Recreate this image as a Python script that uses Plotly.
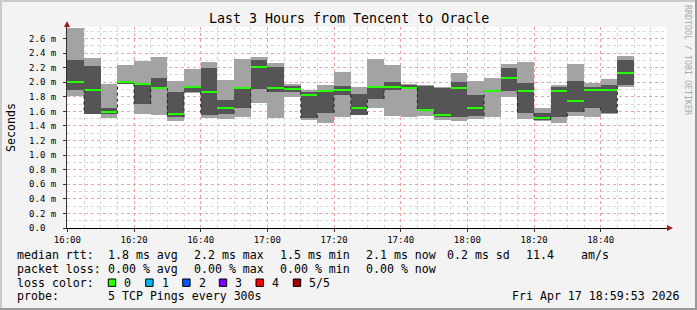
import datetime as dt
import plotly.graph_objects as go

# ---------------- data (ms) ----------------
start = dt.datetime(2026, 4, 17, 16, 0, 0)
range_start = dt.datetime(2026, 4, 17, 15, 59, 53)
range_end = dt.datetime(2026, 4, 17, 18, 59, 53)
step_min = 5
p_min = [1.815, 1.565, 1.51, 1.97, 1.565, 1.555, 1.475, 1.85, 1.51, 1.50,
         1.53, 1.71, 1.51, 1.80, 1.485, 1.445, 1.53, 1.55, 1.64, 1.54,
         1.53, 1.54, 1.485, 1.475, 1.495, 1.53, 1.80, 1.50, 1.475, 1.445,
         1.54, 1.53, 1.565, 1.935]
p_lo = [1.90, 1.57, 1.57, 1.98, 1.70, 1.92, 1.52, 1.87, 1.555, 1.57,
        1.64, 1.91, 1.87, 1.87, 1.51, 1.58, 1.83, 1.555, 1.775, 1.90,
        1.92, 1.60, 1.53, 1.53, 1.54, 1.875, 1.88, 1.58, 1.485, 1.53,
        1.595, 1.65, 1.58, 1.965]
median = [2.00, 1.90, 1.59, 2.00, 1.97, 1.925, 1.57, 1.93, 1.86, 1.64,
          1.915, 2.21, 1.925, 1.91, 1.83, 1.885, 1.90, 1.64, 1.935, 1.935,
          1.925, 1.625, 1.555, 1.925, 1.64, 1.88, 2.06, 1.88, 1.51, 1.88,
          1.745, 1.90, 1.90, 2.13]
p_hi = [2.31, 2.22, 1.64, 2.01, 1.99, 2.06, 1.87, 1.95, 2.20, 1.76,
        1.925, 2.31, 2.21, 1.95, 1.87, 1.90, 1.95, 1.84, 1.95, 2.01,
        1.96, 1.95, 1.92, 2.01, 1.83, 1.90, 2.20, 1.99, 1.58, 1.935,
        2.02, 1.935, 1.965, 2.31]
p_max = [2.75, 2.33, 1.98, 2.24, 2.29, 2.35, 2.02, 2.18, 2.28, 2.03,
         2.32, 2.35, 2.27, 1.98, 1.90, 1.965, 2.14, 1.94, 2.32, 2.24,
         1.98, 1.965, 1.935, 2.13, 2.02, 2.06, 2.255, 2.28, 1.65, 1.965,
         2.255, 1.99, 2.05, 2.36]

y_ticks = [0.0, 0.2, 0.4, 0.6, 0.8, 1.0, 1.2, 1.4, 1.6, 1.8, 2.0, 2.2, 2.4, 2.6]
y_ticktext = ["0.0\u00a0\u00a0"] + [f"{v:.1f} m" for v in y_ticks[1:]]

title_text = "Last 3 Hours from Tencent to Oracle"
row_rtt = ["median rtt:", "1.8 ms avg", "2.2 ms max", "1.5 ms min",
           "2.1 ms now", "0.2 ms sd", "11.4", "am/s"]
row_loss = ["packet loss:", "0.00 % avg", "0.00 % max", "0.00 % min", "0.00 % now"]
loss_labels = ["0", "1", "2", "3", "4", "5/5"]
loss_colors = ["#26ff00", "#00b8ff", "#0059ff", "#7e00ff", "#ff0000", "#a00000"]
probe_text = ["probe:", "5 TCP Pings every 300s"]
stamp_text = "Fri Apr 17 18:59:53 2026"

# ---------------- layout helpers ----------------
W, H = 697, 310
L, R, T, B = 67, 30, 27, 82
PW, PH = W - L - R, H - T - B
def px(x):
    return (x - L) / PW
def py(y):
    return (H - B - y) / PH

n = len(median)
centers = [start + dt.timedelta(minutes=step_min * i + step_min / 2) for i in range(n)]
bw = step_min * 60 * 1000
ymax = 2.758
line_h = 2 * ymax / PH

fig = go.Figure()
fig.add_bar(x=centers, base=p_min, y=[b - a for a, b in zip(p_min, p_max)],
            width=bw, marker=dict(color="#a3a3a3", line=dict(width=0)), hoverinfo="skip")
fig.add_bar(x=centers, base=p_lo, y=[b - a for a, b in zip(p_lo, p_hi)],
            width=bw, marker=dict(color="#555555", line=dict(width=0)), hoverinfo="skip")
fig.add_bar(x=centers, base=[m - line_h / 2 for m in median], y=[line_h] * n,
            width=bw, marker=dict(color=loss_colors[0], line=dict(width=0)), hoverinfo="skip")

# dotted vertical connectors at bar boundaries (lower edge of dark band)
cx, cy = [], []
for i in range(1, n):
    t = start + dt.timedelta(minutes=step_min * i)
    cx += [t, t, None]
    cy += [p_lo[i - 1], p_lo[i], None]
fig.add_scatter(x=cx, y=cy, mode="lines", line=dict(color="#222222", width=1, dash="dot"),
                hoverinfo="skip", connectgaps=False)

mono = "DejaVu Sans Mono"
fig.update_layout(
    width=W, height=H, margin=dict(l=L, r=R, t=T, b=B),
    paper_bgcolor="#f3f3f3", plot_bgcolor="#ffffff",
    barmode="overlay", bargap=0, showlegend=False,
    font=dict(family=mono, size=9, color="#000000"),
)
fig.update_xaxes(
    type="date", range=[range_start, range_end],
    tick0=start, dtick=20 * 60 * 1000, tickformat="%H:%M",
    showgrid=True, gridcolor="#f2a0a0", griddash="dot", gridwidth=1,
    minor=dict(dtick=5 * 60 * 1000, showgrid=True, gridcolor="#d6d6d6", griddash="dot", gridwidth=1),
    showline=True, linecolor="#000000", linewidth=1,
    ticks="outside", ticklen=3, tickcolor="#333333",
    tickfont=dict(family=mono, size=9), zeroline=False, fixedrange=True,
)
fig.update_yaxes(
    range=[0, ymax], tickvals=y_ticks, ticktext=y_ticktext,
    showgrid=True, gridcolor="#f2a0a0", griddash="dot", gridwidth=1,
    minor=dict(dtick=0.1, showgrid=True, gridcolor="#d6d6d6", griddash="dot", gridwidth=1),
    showline=True, linecolor="#3b2b2b", linewidth=1,
    ticks="outside", ticklen=3, tickcolor="#333333",
    ticklabelstandoff=5,
    tickfont=dict(family=mono, size=9), zeroline=False, fixedrange=True,
)

ann = []
def text(t, x, y, size=11.6, anchor="left", color="#000000", angle=0):
    ann.append(dict(text=t, x=px(x), y=py(y), xref="paper", yref="paper",
                    xanchor=anchor, yanchor="middle", showarrow=False,
                    textangle=angle, borderpad=0,
                    font=dict(family=mono, size=size, color=color)))

text(title_text, 348.5, 19, size=13.3, anchor="center")
text("Seconds", 10.5, 127.5, size=11.6, anchor="center", angle=-90)
text("RRDTOOL / TOBI OETIKER", 688, 60, size=8.3, anchor="center", color="#aaaaaa", angle=90)

rtt_x = [16, 107.3, 193.3, 279.3, 365.3, 446, 525, 580]
for t, x in zip(row_rtt, rtt_x):
    text(t, x, 255)
loss_x = [16, 107.3, 193.3, 279.3, 365.3]
for t, x in zip(row_loss, loss_x):
    text(t, x, 268.5)
text("loss color:", 16, 282.5)
box_x = [108.3, 145.7, 182.7, 219.3, 256, 293.3]
shapes = []
for lab, col, bx in zip(loss_labels, loss_colors, box_x):
    shapes.append(dict(type="rect", xref="paper", yref="paper",
                       x0=px(bx), x1=px(bx + 7.4), y0=py(286.4), y1=py(279),
                       fillcolor=col, line=dict(color="#000000", width=1)))
    text(lab, bx + 15, 282.5)
text(probe_text[0], 16, 296)
text(probe_text[1], 107.3, 296)
text(stamp_text, 681, 296, anchor="right")

# frame shading
shapes.append(dict(type="rect", xref="paper", yref="paper", x0=px(0), x1=px(W), y0=py(2), y1=py(0),
                   fillcolor="#cbcbcb", line=dict(width=0), layer="below"))
shapes.append(dict(type="rect", xref="paper", yref="paper", x0=px(0), x1=px(2), y0=py(H), y1=py(0),
                   fillcolor="#cbcbcb", line=dict(width=0), layer="below"))
shapes.append(dict(type="rect", xref="paper", yref="paper", x0=px(W - 2), x1=px(W), y0=py(H), y1=py(0),
                   fillcolor="#999999", line=dict(width=0)))
shapes.append(dict(type="rect", xref="paper", yref="paper", x0=px(0), x1=px(W), y0=py(H), y1=py(H - 2),
                   fillcolor="#999999", line=dict(width=0)))
# axis arrows
shapes.append(dict(type="path", xref="paper", yref="paper",
                   path=f"M {px(64)},{py(27)} L {px(70)},{py(27)} L {px(67)},{py(21)} Z",
                   fillcolor="#9b1c1c", line=dict(width=0)))
shapes.append(dict(type="path", xref="paper", yref="paper",
                   path=f"M {px(667)},{py(225)} L {px(667)},{py(231)} L {px(673)},{py(228)} Z",
                   fillcolor="#9b1c1c", line=dict(width=0)))

fig.update_layout(annotations=ann, shapes=shapes)
fig.write_html("out.html")
